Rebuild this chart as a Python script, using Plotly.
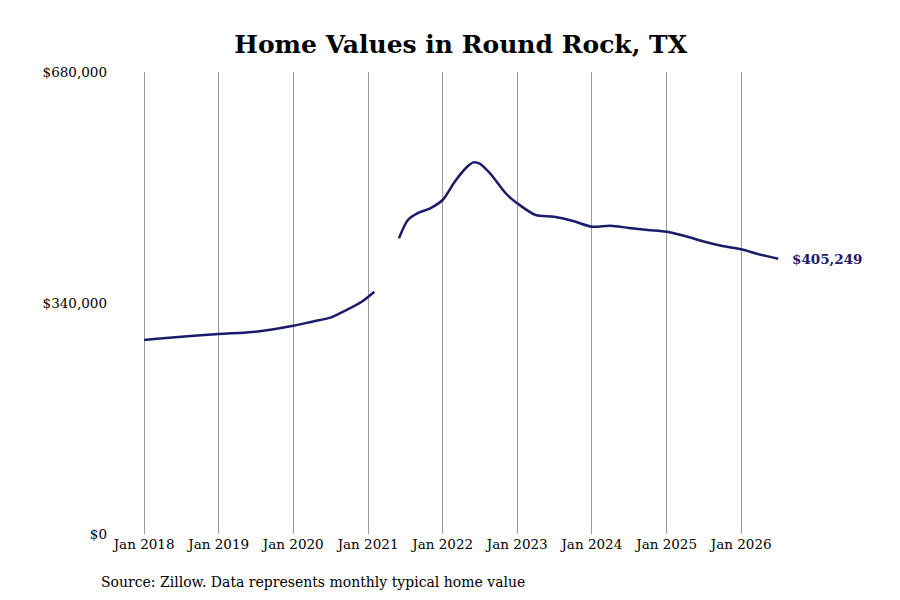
import plotly.graph_objects as go

# typical home value (thousands of dollars), gap in spring 2021
dates = ['2018-01-01', '2018-06-01', '2019-01-01', '2019-07-01', '2020-01-01',
         '2020-04-01', '2020-07-01', '2020-09-01', '2020-12-01', '2021-02-01',
         '2021-04-01',
         '2021-06-01', '2021-07-15', '2021-09-01', '2021-11-01', '2022-01-01', '2022-03-01',
         '2022-05-01', '2022-06-01', '2022-07-01', '2022-08-01', '2022-09-01', '2022-10-01',
         '2022-11-01', '2022-12-01', '2023-01-01', '2023-04-01',
         '2023-07-01', '2023-10-01', '2024-01-01', '2024-04-01', '2024-07-01', '2024-10-01',
         '2025-01-01', '2025-04-01', '2025-07-01', '2025-10-01', '2026-01-01', '2026-04-01',
         '2026-07-01']
values_k = [285.5, 289.6, 294.4, 297.8, 306.6,
            312.5, 318.4, 327.2, 341.9, 356.6,
            None,
            435.2, 462.2, 472.2, 479.4, 491.6, 518.6,
            540.6, 547.0, 545.0, 537.0, 527.0, 515.0,
            503.0, 494.0, 486.7, 469.5,
            467.0, 460.7, 452.3, 453.8, 450.4, 447.5,
            445.0, 438.6, 430.5, 423.9, 419.0, 411.4,
            405.249]
values = [v * 1000 if v is not None else None for v in values_k]

tick_dates = ['%d-01-01' % y for y in range(2018, 2027)]
tick_labels = ['Jan %d' % y for y in range(2018, 2027)]
y_ticks = [0, 340000, 680000]
y_labels = ['$0', '$340,000', '$680,000']

line_color = '#1b1a6b'
serif = 'DejaVu Serif'

fig = go.Figure()
fig.add_trace(go.Scatter(x=dates, y=values, mode='lines', connectgaps=False,
                         line=dict(color=line_color, width=2.5, shape='spline', smoothing=0.8),
                         showlegend=False))

fig.add_annotation(x=dates[-1], y=values[-1], text='<b>$%s</b>' % format(round(values[-1]), ','),
                   showarrow=False, xanchor='left', xshift=12,
                   font=dict(family=serif, size=13.5, color=line_color))
fig.add_annotation(xref='paper', yref='paper', x=-0.017, y=-0.104, xanchor='left', yanchor='middle',
                   text='Source: Zillow. Data represents monthly typical home value', showarrow=False,
                   font=dict(family=serif, size=14, color='black'))

fig.update_layout(
    width=900, height=600,
    margin=dict(l=104, r=28, t=64, b=74),
    paper_bgcolor='white', plot_bgcolor='white',
    title=dict(text='<b>Home Values in Round Rock, TX</b>', x=0.503, xanchor='center', y=0.94,
               yanchor='middle', font=dict(family=serif, size=25, color='black')),
    xaxis=dict(range=['2017-07-28', '2027-11-11'], tickvals=tick_dates, ticktext=tick_labels,
               showgrid=True, gridcolor='#9a9a9a', gridwidth=1, zeroline=False, showline=False,
               ticks='', tickfont=dict(family=serif, size=13.5, color='black')),
    yaxis=dict(range=[0, 680000], tickvals=y_ticks, ticktext=y_labels, showgrid=False,
               zeroline=False, showline=False, ticks='', ticklabelstandoff=4,
               tickfont=dict(family=serif, size=13.5, color='black')),
)

fig.write_html('out.html')
